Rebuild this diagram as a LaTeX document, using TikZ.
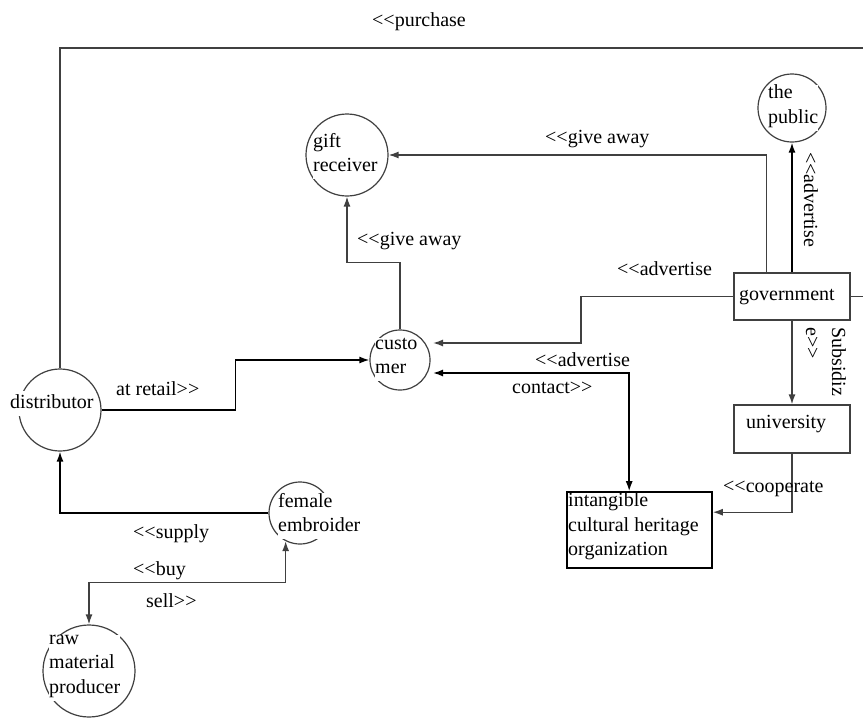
\documentclass[tikz,border=0pt]{standalone}
\usepackage{fontspec}
\setmainfont{Liberation Serif}
\usetikzlibrary{arrows.meta,calc}
\definecolor{dg}{HTML}{404040}
\newcommand\dlt{<{}<}
\newcommand\dgt{>{}>}
\begin{document}
\begin{tikzpicture}[x=1pt,y=-1pt,
  circ/.style={circle,draw=dg,line width=1.2pt,inner sep=0pt},
  boxn/.style={rectangle,draw=dg,line width=1.3pt,inner sep=0pt},
  ichbox/.style={rectangle,draw=black,line width=1.6pt,inner sep=0pt},
  txt/.style={font=\fontsize{20}{24.5}\selectfont,inner sep=0pt,anchor=base west,text=black},
  mtxt/.style={font=\fontsize{20}{24.5}\selectfont,inner sep=0pt,anchor=north west,align=left,execute at begin node=\strut,text=black},
  wtxt/.style={mtxt,fill=white},
  conn/.style={draw=dg,line width=1.4pt},
  bconn/.style={draw=black,line width=1.5pt},
  arr/.style={conn,-{Latex[length=10pt,width=7pt]}},
  barr/.style={bconn,-{Latex[length=10pt,width=7pt]}},
  bdarr/.style={bconn,{Latex[length=10pt,width=7pt]}-{Latex[length=10pt,width=7pt]}},
  darr/.style={conn,{Latex[length=10pt,width=7pt]}-{Latex[length=10pt,width=7pt]}}
]
\useasboundingbox[fill=white] (0,0) rectangle (863,718);

% circles
\node[circ,minimum size=82pt] (distributor) at (60,410) {};
\node[circ,minimum size=60pt] (customer) at (400,360) {};
\node[circ,minimum size=82pt] (gift) at (347,155) {};
\node[circ,minimum size=68pt] (public) at (792,108) {};
\node[circ,minimum size=62pt] (female) at (300,513) {};
\node[circ,minimum size=92pt] (raw) at (89,671) {};

% boxes
\node[boxn,minimum width=116pt,minimum height=47pt] (government) at (792,296.5) {};
\node[boxn,minimum width=116pt,minimum height=48pt] (university) at (792,429) {};
\node[ichbox,minimum width=145pt,minimum height=76pt] (ich) at (639.5,530) {};

% node texts
\node[wtxt] (distributorT) at (10,390.85) {distributor};
\node[wtxt] (customerT) at (375,337.85) {custo\\mer};
\node[wtxt] (giftT) at (313,132.85) {gift\\receiver};
\node[wtxt] (publicT) at (768,84.85) {the\\public};
\node[wtxt] (femaleT) at (278,492.85) {female\\embroider};
\node[wtxt] (rawT) at (49,634.85) {raw\\material\\producer};
\node[txt] (governmentT) at (739,300) {government};
\node[txt] (universityT) at (746,428) {university};
\node[mtxt] (ichT) at (568,492.85) {intangible\\cultural heritage\\organization};

% connectors
\coordinate (pcorner) at (864,48);
\draw[conn] (government.east) -| (pcorner) -| (distributor.north);
\draw[barr] (distributor.east) -- ++(134,0) |- (customer.west);
\draw[arr] (customer.north) -- ++(0,-67) -| (gift.south);
\draw[arr] ($(government.north west)+(33,0)$) |- (gift.east);
\draw[barr] (government.north) -- (public.south);
\draw[arr] (government.west) -- (581,296.5) |- ($(customer.center)+(33,-17)$);
\draw[bdarr] ($(customer.center)+(33,13)$) -| ($(ich.north west)+(63,0)$);
\draw[arr] (government.south) -- (university.north);
\draw[arr] (university.south) |- ($(ich.north east)+(0,21)$);
\draw[barr] (female.west) -| (distributor.south);
\draw[darr] (raw.north) -- ++(0,-42) -| (female.243);

% labels
\node[txt] (lpurchase) at (372,26) {\dlt purchase};
\node[txt] (lretail) at (116,395) {at retail\dgt};
\node[txt] (lgive1) at (545,143) {\dlt give away};
\node[txt] (lgive2) at (357,245) {\dlt give away};
\node[txt,rotate=-90] (ladvpub) at (804,152) {\dlt advertise};
\node[txt,rotate=-90] (lsub1) at (832,327) {Subsidiz};
\node[txt,rotate=-90] (lsub2) at (806,327) {e\dgt};
\node[txt] (ladv1) at (617,275) {\dlt advertise};
\node[txt] (ladv2) at (535,366) {\dlt advertise};
\node[txt] (lcontact) at (512,393) {contact\dgt};
\node[txt] (lcoop) at (723,492) {\dlt cooperate};
\node[txt] (lsupply) at (133,538) {\dlt supply};
\node[txt] (lbuy) at (133,575) {\dlt buy};
\node[txt] (lsell) at (146,607) {sell\dgt};
\end{tikzpicture}
\end{document}
